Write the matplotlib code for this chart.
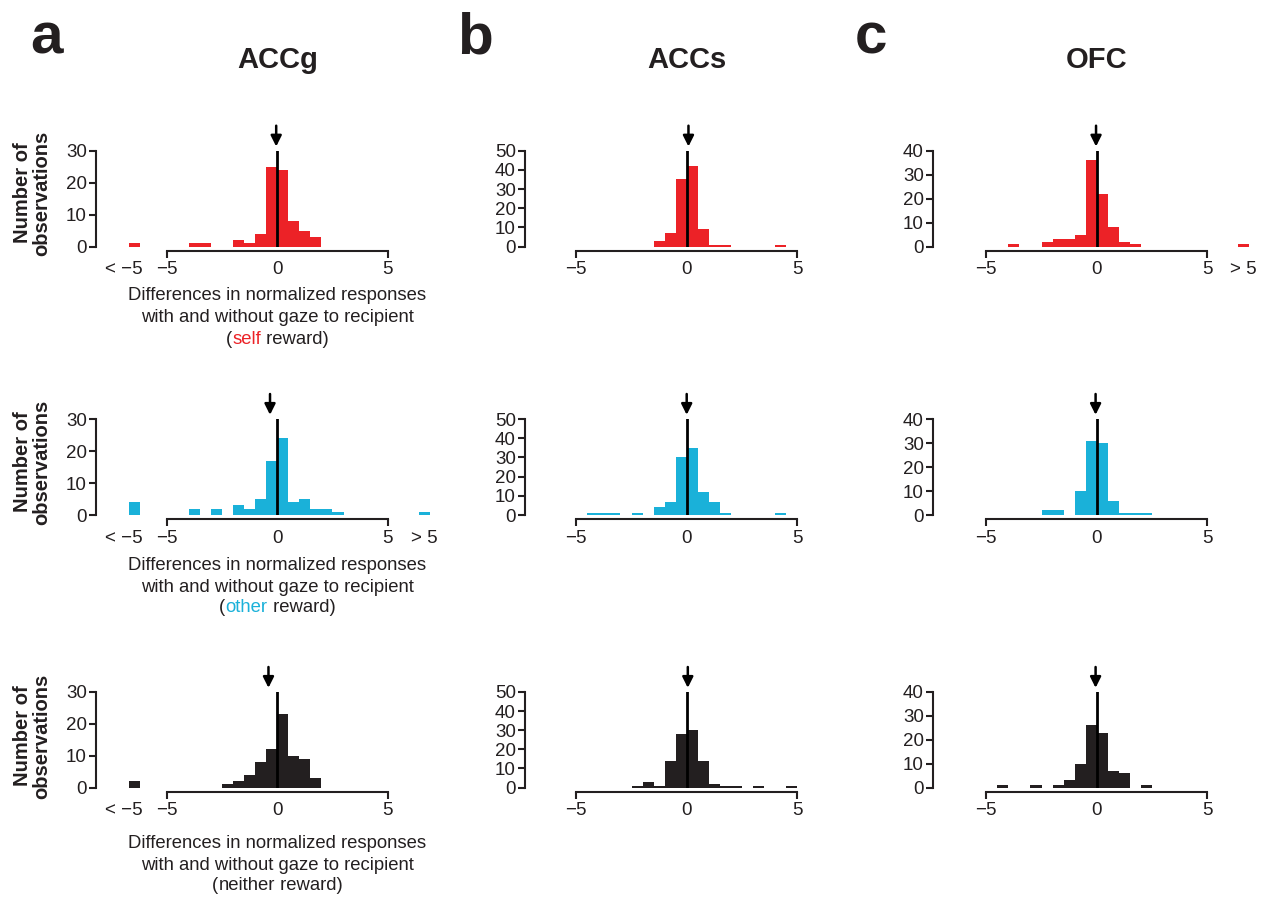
import numpy as np
import matplotlib
matplotlib.use('Agg')
import matplotlib.pyplot as plt

plt.rcParams['font.family'] = ['Liberation Sans', 'DejaVu Sans']

W, H = 1267, 899
INK = '#231f20'
RED = '#ec2227'
CYAN = '#1ab1d9'

# bins of width 0.5 from -5 to 5 (20 bins), plus out-of-range counts
edges = np.arange(-5, 5.01, 0.5)
centers = edges[:-1] + 0.25
low_center, high_center = -6.45, 6.65

regions = ['ACCg', 'ACCs', 'OFC']
letters = ['a', 'b', 'c']
conditions = ['self', 'other', 'neither']
colors = [RED, CYAN, INK]
ymax = [30, 50, 40]

# counts[region][condition]
accg_self    = [0, 0, 1, 1, 0, 0, 2, 1, 4, 25, 24, 8, 5, 3, 0, 0, 0, 0, 0, 0]
accg_other   = [0, 0, 2, 0, 2, 0, 3, 2, 5, 17, 24, 4, 5, 2, 2, 1, 0, 0, 0, 0]
accg_neither = [0, 0, 0, 0, 0, 1, 2, 4, 8, 12, 23, 10, 9, 3, 0, 0, 0, 0, 0, 0]
accs_self    = [0, 0, 0, 0, 0, 0, 0, 3, 7, 35, 42, 9, 1, 1, 0, 0, 0, 0, 1, 0]
accs_other   = [0, 1, 1, 1, 0, 1, 0, 4, 7, 30, 35, 12, 7, 1, 0, 0, 0, 0, 1, 0]
accs_neither = [0, 0, 0, 0, 0, 1, 3, 1, 14, 28, 30, 14, 2, 1, 1, 0, 1, 0, 0, 1]
ofc_self     = [0, 0, 1, 0, 0, 2, 3, 3, 5, 36, 22, 8, 2, 1, 0, 0, 0, 0, 0, 0]
ofc_other    = [0, 0, 0, 0, 0, 2, 2, 0, 10, 31, 30, 6, 1, 1, 1, 0, 0, 0, 0, 0]
ofc_neither  = [0, 1, 0, 0, 1, 0, 1, 3, 10, 26, 23, 7, 6, 0, 1, 0, 0, 0, 0, 0]
counts = [[accg_self, accg_other, accg_neither],
          [accs_self, accs_other, accs_neither],
          [ofc_self, ofc_other, ofc_neither]]
low_counts  = [[1, 4, 2], [0, 0, 0], [0, 0, 0]]
high_counts = [[0, 1, 0], [0, 0, 0], [1, 0, 0]]
means = [[-0.05, -0.33, -0.4], [0.08, 0.0, 0.05], [-0.03, -0.05, -0.05]]

# layout (pixels)
ppu = 22.07
spine_px = [96, 525, 933]
zero_px = [277.3, 686.7, 1096.7]
top_px = [150.7, 419, 692]
zero_y = [246.5, 515, 787.5]
xright = 7.2

fig = plt.figure(figsize=(W / 100, H / 100), dpi=100)

for c in range(3):
    xleft = (spine_px[c] - zero_px[c]) / ppu
    for r in range(3):
        left = spine_px[c] / W
        width = (xright - xleft) * ppu / W
        bottom = 1 - zero_y[r] / H
        height = (zero_y[r] - top_px[r]) / H
        ax = fig.add_axes([left, bottom, width, height])
        col = colors[r]
        ax.bar(centers, counts[c][r], width=0.5, color=col, lw=0)
        if low_counts[c][r]:
            ax.bar(low_center, low_counts[c][r], width=0.5, color=col, lw=0)
        if high_counts[c][r]:
            ax.bar(high_center, high_counts[c][r], width=0.5, color=col, lw=0)
        ax.axvline(0, color='black', lw=2, zorder=5)
        ax.annotate('', xy=(means[c][r], ymax[c]), xytext=(0, 18),
                    textcoords='offset points', annotation_clip=False,
                    arrowprops=dict(arrowstyle='-|>', lw=1.8, color='black',
                                    mutation_scale=16, shrinkA=0, shrinkB=3))
        ax.set_xlim(xleft, xright)
        ax.set_ylim(0, ymax[c])
        for s in ['top', 'right']:
            ax.spines[s].set_visible(False)
        ax.spines['bottom'].set_position(('outward', 3))
        ax.spines['bottom'].set_bounds(-5, 5)
        ax.spines['left'].set_bounds(0, ymax[c])
        for s in ['bottom', 'left']:
            ax.spines[s].set_linewidth(1.5)
            ax.spines[s].set_color(INK)
        ax.set_yticks(np.arange(0, ymax[c] + 1, 10))
        xt = [-5, 0, 5]
        xl = ['\u22125', '0', '5']
        if low_counts[c][r]:
            xt = [-6.1] + xt
            xl = ['< \u22125'] + xl
        if high_counts[c][r]:
            xt = xt + [high_center]
            xl = xl + ['> 5']
        ax.set_xticks(xt)
        ax.set_xticklabels(xl)
        ax.tick_params(axis='both', labelsize=13.5, colors=INK, width=1.5,
                       length=5, pad=1.5)
        ax.tick_params(axis='x', pad=2.5)
        for v, tk, lab in zip(xt, ax.xaxis.get_major_ticks(), ax.get_xticklabels()):
            if v not in (-5, 5):
                tk.tick1line.set_visible(False)
            if v == -6.1:
                lab.set_horizontalalignment('right')
        ax.set_facecolor('none')

# titles and panel letters
for c in range(3):
    fig.text(zero_px[c] / W, 1 - 60 / H, regions[c], ha='center', va='center',
             fontsize=21, fontweight='bold', color=INK)
letter_x = [30, 457, 855]
for c in range(3):
    fig.text(letter_x[c] / W, 1 - 54 / H, letters[c], ha='left', va='baseline',
             fontsize=42, fontweight='bold', color=INK)

# y labels
label_y = [193, 462, 736]
for r in range(3):
    fig.text(32 / W, 1 - label_y[r] / H, 'Number of\nobservations', rotation=90,
             ha='center', va='center', fontsize=14.5, fontweight='bold',
             color=INK, linespacing=1.0)

# x labels with coloured condition word
line_y = [[296, 318, 340], [565, 587, 608], [843, 865, 886]]
renderer = fig.canvas.get_renderer()
for r in range(3):
    xc = zero_px[0]
    for i, s in enumerate(['Differences in normalized responses',
                           'with and without gaze to recipient']):
        fig.text(xc / W, 1 - line_y[r][i] / H, s, ha='center', va='center',
                 fontsize=13.3, color=INK)
    parts = [('(', INK), (conditions[r], colors[r]), (' reward)', INK)]
    texts = [fig.text(0, 1 - line_y[r][2] / H, s, ha='left', va='center',
                      fontsize=13.3, color=col) for s, col in parts]
    widths = [t.get_window_extent(renderer).width for t in texts]
    x = xc - sum(widths) / 2
    for t, w in zip(texts, widths):
        t.set_x(x / W)
        x += w

fig.savefig('out.png', dpi=100)
